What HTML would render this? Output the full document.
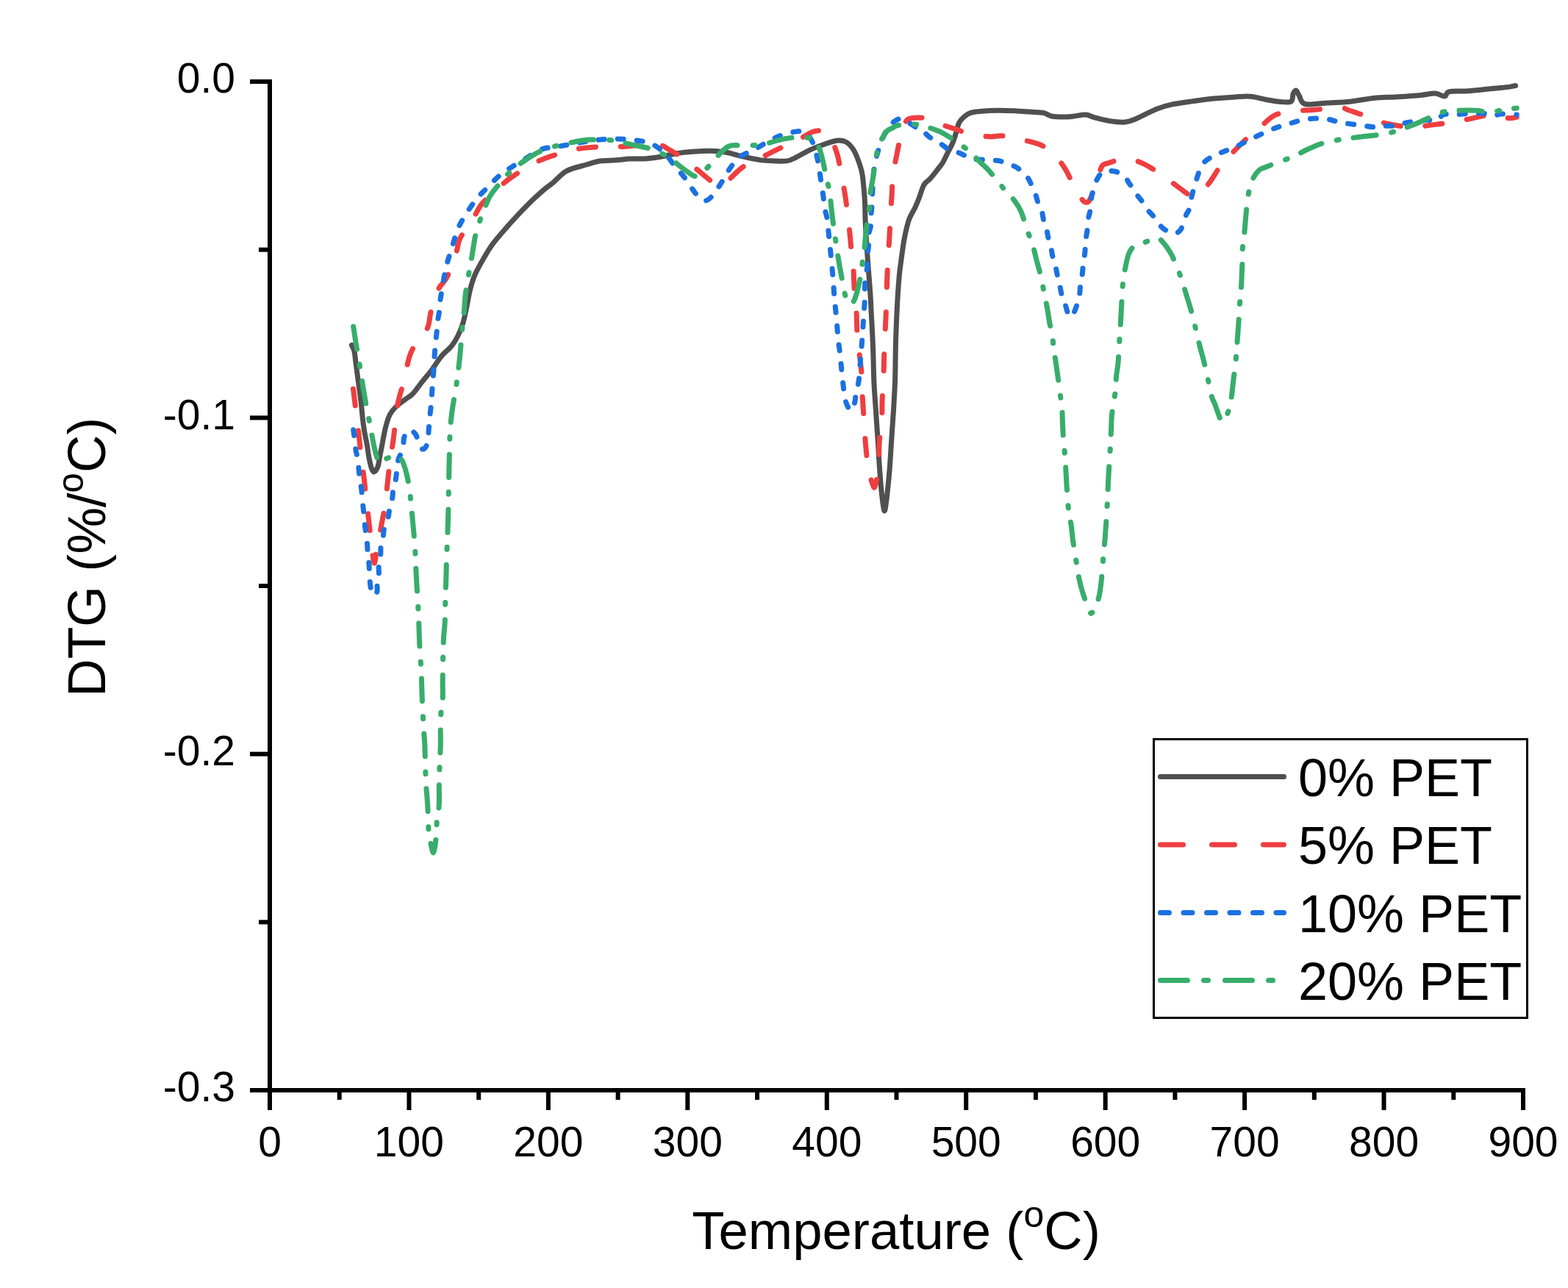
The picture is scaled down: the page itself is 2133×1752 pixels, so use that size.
<!DOCTYPE html>
<html><head><meta charset="utf-8"><title>DTG curves</title>
<style>
html,body{margin:0;padding:0;background:#fff;}
body{width:2133px;height:1752px;overflow:hidden;}
svg{display:block;}
</style></head>
<body>
<svg width="2133" height="1752" viewBox="0 0 2133 1752">
<rect x="0" y="0" width="2133" height="1752" fill="#ffffff"/>
<path d="M478.4,469.5C479.0,470.9 480.9,473.4 481.9,477.6C482.9,481.8 483.4,489.1 484.2,494.9C485.0,500.7 485.7,506.5 486.5,512.2C487.3,518.0 488.0,523.6 488.8,529.4C489.6,535.1 490.3,540.0 491.1,546.7C491.9,553.4 492.6,563.1 493.4,569.8C494.2,576.5 494.7,581.2 495.7,587.0C496.7,592.8 498.2,598.8 499.2,604.3C500.2,609.8 500.5,614.6 501.5,620.0C502.5,625.4 504.1,633.1 505.3,636.7C506.5,640.4 507.4,642.2 508.8,641.9C510.2,641.6 512.6,638.3 513.9,635.0C515.2,631.7 515.5,627.1 516.5,622.0C517.5,616.9 518.6,611.1 519.9,604.3C521.2,597.5 522.8,588.0 524.5,581.3C526.2,574.6 528.0,568.6 530.3,564.0C532.6,559.4 535.0,556.9 538.3,553.6C541.6,550.3 546.6,546.9 549.9,544.4C553.2,541.9 555.8,540.3 557.9,538.7C560.0,537.1 559.5,538.0 562.3,534.8C565.0,531.5 570.1,524.7 574.4,519.2C578.7,513.7 583.9,507.8 588.2,502.0C592.5,496.2 596.0,489.9 600.3,484.7C604.6,479.5 610.5,475.4 614.2,470.8C618.0,466.2 620.2,462.2 622.8,457.0C625.4,451.8 627.8,446.0 629.7,439.7C631.7,433.4 632.8,426.9 634.5,419.2C636.2,411.5 637.7,401.1 639.7,393.3C641.7,385.5 643.4,379.7 646.6,372.5C649.8,365.3 654.7,357.0 658.7,350.1C662.7,343.2 665.6,338.0 670.8,331.1C676.0,324.2 683.5,315.8 689.8,308.6C696.1,301.4 702.8,294.2 708.8,287.9C714.8,281.6 720.9,275.6 726.1,270.6C731.3,265.6 735.6,261.7 740.0,258.0C744.4,254.3 747.2,252.7 752.3,248.5C757.4,244.3 763.1,236.7 770.7,232.6C778.3,228.5 790.2,226.3 797.8,224.0C805.4,221.7 809.5,220.0 816.3,219.0C823.1,218.0 831.6,218.3 838.4,217.8C845.1,217.3 850.6,216.3 856.8,216.0C862.9,215.7 868.5,216.4 875.3,216.0C882.1,215.6 891.2,214.4 897.4,213.5C903.5,212.6 906.7,211.4 912.2,210.4C917.7,209.4 923.4,208.1 930.6,207.3C937.8,206.5 948.0,205.8 955.2,205.5C962.4,205.2 967.8,205.1 973.7,205.5C979.6,205.9 984.8,206.6 990.7,207.8C996.6,209.0 1002.0,211.1 1009.2,212.7C1016.4,214.3 1026.6,216.6 1033.8,217.6C1041.0,218.6 1046.0,218.7 1052.2,218.9C1058.4,219.1 1065.6,219.7 1070.7,218.9C1075.8,218.1 1077.9,216.5 1083.0,214.0C1088.1,211.5 1095.2,207.0 1101.4,204.1C1107.6,201.2 1113.8,198.8 1119.9,196.7C1126.1,194.5 1133.2,191.8 1138.3,191.2C1143.4,190.6 1146.9,191.1 1150.6,193.0C1154.3,194.9 1157.6,198.6 1160.5,202.9C1163.4,207.2 1165.8,213.4 1167.8,218.9C1169.8,224.4 1171.5,229.1 1172.8,236.1C1174.1,243.1 1174.9,254.2 1175.5,260.7C1176.1,267.2 1176.2,269.0 1176.5,275.0C1176.8,281.0 1176.7,288.5 1177.0,296.5C1177.3,304.5 1177.8,314.2 1178.3,323.0C1178.8,331.8 1179.5,340.7 1180.1,349.5C1180.7,358.3 1181.4,367.2 1182.1,376.0C1182.8,384.8 1183.5,393.7 1184.1,402.5C1184.6,411.3 1185.0,420.1 1185.4,428.9C1185.9,437.7 1186.4,446.9 1186.8,455.4C1187.2,463.9 1187.4,469.3 1187.8,480.0C1188.2,490.7 1188.3,506.5 1188.9,519.7C1189.5,533.0 1190.6,546.2 1191.5,559.5C1192.4,572.8 1193.4,587.1 1194.2,599.2C1195.0,611.3 1195.4,621.3 1196.2,632.3C1197.0,643.3 1197.7,655.0 1198.8,665.4C1199.9,675.8 1201.6,692.4 1202.8,694.6C1204.0,696.8 1204.9,688.0 1206.1,678.7C1207.3,669.4 1209.0,652.1 1210.1,638.9C1211.2,625.6 1211.8,612.4 1212.7,599.2C1213.6,586.0 1214.6,572.8 1215.4,559.5C1216.2,546.2 1217.0,533.0 1217.5,519.7C1218.0,506.5 1218.0,490.7 1218.2,480.0C1218.4,469.3 1218.4,466.1 1218.8,455.4C1219.2,444.7 1219.8,428.9 1220.5,415.7C1221.2,402.5 1222.2,387.0 1223.2,376.0C1224.2,365.0 1225.3,358.3 1226.5,349.5C1227.7,340.7 1228.8,331.4 1230.5,323.0C1232.2,314.6 1234.1,305.7 1236.4,299.1C1238.7,292.5 1242.1,288.1 1244.4,283.2C1246.7,278.3 1248.0,275.2 1250.0,270.0C1252.0,264.8 1254.2,256.3 1256.7,251.8C1259.2,247.3 1262.2,246.6 1265.3,243.1C1268.4,239.6 1272.3,234.5 1275.2,230.8C1278.1,227.1 1280.3,224.7 1282.6,221.0C1284.8,217.3 1286.5,213.2 1288.7,208.7C1291.0,204.2 1294.0,198.9 1296.1,194.0C1298.1,189.1 1299.6,183.7 1301.0,179.2C1302.4,174.7 1302.9,170.4 1304.7,166.9C1306.5,163.4 1309.4,160.6 1312.1,158.3C1314.8,156.1 1317.2,154.5 1320.7,153.4C1324.2,152.3 1326.8,152.0 1333.0,151.5C1339.2,151.0 1349.4,150.4 1357.6,150.3C1365.8,150.2 1375.0,150.6 1382.2,150.9C1389.4,151.2 1394.4,151.7 1400.6,152.1C1406.8,152.5 1414.0,152.4 1419.1,153.4C1424.2,154.4 1426.3,157.4 1431.4,158.3C1436.5,159.2 1445.0,158.9 1449.8,158.9C1454.6,158.9 1455.5,158.7 1460.0,158.2C1464.5,157.7 1472.3,155.9 1477.0,156.1C1481.7,156.3 1483.0,158.2 1488.4,159.6C1493.9,161.0 1502.6,163.5 1509.7,164.6C1516.8,165.7 1525.1,166.5 1531.0,166.0C1536.9,165.5 1538.0,164.7 1545.1,161.7C1552.2,158.7 1565.2,151.5 1573.5,148.2C1581.8,144.9 1586.5,143.7 1594.8,141.9C1603.1,140.1 1613.7,138.9 1623.2,137.6C1632.7,136.3 1642.1,135.0 1651.6,134.1C1661.1,133.2 1671.7,132.4 1680.0,131.9C1688.3,131.4 1694.1,130.6 1701.2,131.2C1708.3,131.8 1716.0,134.3 1722.5,135.5C1729.0,136.7 1734.4,137.8 1740.0,138.2C1745.6,138.6 1752.9,140.1 1756.1,138.2C1759.3,136.3 1758.1,129.5 1759.3,127.0C1760.5,124.5 1762.0,122.5 1763.3,123.0C1764.6,123.5 1765.3,127.1 1767.3,130.2C1769.3,133.3 1769.2,139.9 1775.4,141.5C1781.6,143.1 1794.1,140.5 1804.3,139.9C1814.5,139.3 1825.8,139.3 1836.5,138.2C1847.2,137.1 1858.0,134.5 1868.7,133.4C1879.4,132.3 1890.1,132.5 1900.8,131.8C1911.5,131.1 1924.4,130.2 1933.0,129.4C1941.6,128.6 1946.9,126.7 1952.3,127.0C1957.7,127.3 1962.0,131.4 1965.2,131.0C1968.4,130.6 1966.2,125.8 1971.6,124.6C1976.9,123.4 1987.6,124.5 1997.3,123.8C2007.0,123.1 2020.1,121.5 2029.5,120.6C2038.9,119.6 2048.2,118.8 2053.6,118.1C2058.9,117.4 2060.3,116.8 2061.6,116.5" fill="none" stroke="#505050" stroke-width="7" stroke-linecap="round" stroke-linejoin="round"/>
<path d="M480.5,529.0C481.1,534.1 482.8,548.0 484.2,559.4C485.6,570.8 487.6,587.3 488.8,597.4C490.0,607.5 490.0,610.5 491.1,620.0C492.2,629.5 494.6,644.8 495.7,654.6C496.8,664.4 497.0,670.1 498.0,678.8C499.0,687.4 500.4,697.5 501.5,706.5C502.6,715.5 503.2,723.4 504.4,733.0C505.5,742.6 507.3,759.4 508.4,764.0C509.4,768.6 510.0,764.2 510.7,760.6C511.4,757.0 511.8,746.0 512.4,742.2C513.0,738.4 513.0,742.2 514.1,737.6C515.2,733.0 517.2,723.0 518.8,714.5C520.4,706.0 522.6,695.9 523.9,686.9C525.2,677.9 525.7,670.2 526.8,660.4C527.9,650.6 529.1,638.1 530.4,628.1C531.7,618.1 533.4,609.6 534.7,600.4C536.0,591.2 537.0,581.7 538.1,572.8C539.2,563.9 539.7,556.1 541.6,546.9C543.5,537.7 547.0,528.0 549.6,517.7C552.2,507.4 554.3,493.4 557.0,485.0C559.7,476.6 561.8,473.8 565.8,467.4C569.8,461.0 577.8,454.2 581.3,446.7C584.8,439.2 584.0,431.4 586.5,422.5C589.0,413.6 592.8,401.1 596.5,393.3C600.2,385.6 604.6,384.4 608.6,376.0C612.6,367.6 617.8,351.8 620.7,343.2C623.6,334.6 622.1,331.7 625.9,324.2C629.6,316.7 638.3,306.0 643.2,298.2C648.1,290.4 649.7,284.4 655.3,277.5C660.9,270.6 670.6,262.6 676.9,256.8C683.2,251.0 686.8,247.7 693.3,242.9C699.8,238.2 709.1,232.3 715.7,228.3C722.3,224.3 725.3,222.1 733.0,218.8C740.7,215.5 753.1,211.3 762.1,208.6C771.1,205.9 776.9,203.9 786.7,202.4C796.6,200.9 811.0,199.9 821.2,199.4C831.5,198.9 839.2,199.8 848.2,199.4C857.2,199.0 866.7,197.1 875.3,196.9C883.9,196.7 894.6,197.3 899.9,198.1C905.2,198.9 902.0,198.7 907.3,201.8C912.6,204.9 924.9,211.7 931.9,216.6C938.9,221.5 942.8,226.0 949.1,231.3C955.4,236.6 965.1,244.9 969.8,248.4C974.5,251.9 974.3,252.1 977.2,252.1C980.1,252.1 982.4,251.9 987.1,248.4C991.8,244.9 999.8,235.9 1005.5,231.2C1011.2,226.5 1016.0,223.2 1021.5,220.1C1027.0,217.0 1032.2,215.8 1038.7,212.7C1045.2,209.6 1053.4,205.2 1060.8,201.7C1068.2,198.2 1075.6,195.5 1083.0,191.8C1090.4,188.1 1099.4,181.8 1105.1,179.5C1110.8,177.2 1113.5,177.3 1117.4,178.3C1121.3,179.3 1125.0,180.8 1128.5,185.7C1132.0,190.6 1135.8,200.4 1138.3,207.8C1140.8,215.2 1141.5,221.7 1143.2,229.9C1144.9,238.1 1146.9,249.5 1148.2,257.0C1149.5,264.5 1149.8,265.6 1151.0,275.0C1152.2,284.4 1154.4,302.4 1155.6,313.7C1156.8,325.0 1157.4,334.0 1158.3,342.8C1159.2,351.6 1160.2,357.9 1160.9,366.7C1161.6,375.5 1161.6,386.3 1162.3,395.8C1163.0,405.3 1164.2,413.7 1164.9,423.6C1165.6,433.5 1165.5,446.1 1166.2,455.4C1166.9,464.7 1167.9,470.1 1168.9,479.3C1169.9,488.5 1171.7,501.6 1172.3,510.5C1172.9,519.5 1172.3,523.7 1172.8,533.0C1173.2,542.3 1174.2,554.0 1175.0,566.1C1175.8,578.2 1176.5,593.7 1177.6,605.8C1178.7,617.9 1179.9,629.8 1181.6,638.9C1183.2,648.0 1186.1,656.2 1187.5,660.1C1188.9,664.0 1189.1,663.7 1190.0,662.0C1190.9,660.3 1192.1,655.6 1193.0,650.0C1193.9,644.4 1195.0,636.3 1195.5,628.3C1196.0,620.3 1195.5,611.8 1196.2,601.9C1196.9,592.0 1198.8,578.2 1199.5,568.7C1200.2,559.2 1199.7,555.3 1200.1,544.9C1200.5,534.5 1201.6,517.3 1202.1,506.5C1202.5,495.7 1202.4,490.9 1202.8,480.0C1203.2,469.1 1204.1,452.9 1204.6,440.9C1205.1,428.8 1205.7,417.4 1206.0,407.7C1206.3,398.0 1206.3,391.9 1206.6,382.6C1206.9,373.3 1207.5,362.0 1208.0,352.1C1208.5,342.2 1209.4,332.9 1209.9,323.0C1210.5,313.1 1210.7,302.5 1211.3,292.5C1211.9,282.5 1212.8,272.1 1213.3,263.1C1213.8,254.1 1213.5,247.2 1214.6,238.5C1215.7,229.8 1218.4,218.2 1219.8,211.0C1221.2,203.8 1222.0,199.5 1223.0,195.0C1224.0,190.5 1224.8,188.2 1226.0,184.0C1227.2,179.8 1228.5,173.6 1230.0,170.0C1231.5,166.4 1232.5,164.1 1235.0,162.5C1237.5,160.9 1241.7,160.6 1245.0,160.2C1248.3,159.8 1252.2,160.0 1255.0,160.2C1257.8,160.4 1259.5,160.7 1262.0,161.5C1264.5,162.3 1265.8,163.3 1270.0,165.0C1274.2,166.7 1282.5,170.1 1287.5,171.8C1292.5,173.6 1295.5,174.1 1299.8,175.5C1304.1,176.9 1308.3,179.0 1313.3,180.4C1318.3,181.8 1324.3,183.1 1330.0,184.0C1335.7,184.9 1342.5,185.9 1347.7,186.0C1352.9,186.1 1356.6,184.6 1361.3,184.7C1366.0,184.8 1368.4,185.0 1376.0,186.6C1383.6,188.2 1400.2,192.4 1407.0,194.2C1413.8,196.0 1413.8,196.2 1416.6,197.6C1419.4,199.0 1420.1,199.3 1424.0,202.6C1427.9,205.9 1435.5,212.2 1440.0,217.3C1444.5,222.4 1447.4,227.0 1451.0,233.3C1454.6,239.6 1458.4,249.1 1461.6,254.9C1464.8,260.8 1467.4,265.0 1469.9,268.4C1472.4,271.8 1474.4,274.9 1476.6,275.1C1478.8,275.4 1480.2,276.5 1483.3,269.9C1486.4,263.3 1492.5,242.9 1495.3,235.4C1498.0,227.9 1497.8,227.2 1499.8,224.9C1501.8,222.7 1503.9,223.1 1507.3,221.9C1510.7,220.8 1515.5,219.0 1520.0,218.0C1524.5,217.0 1528.7,215.3 1534.3,216.0C1539.9,216.7 1547.0,218.9 1553.7,221.9C1560.4,224.9 1569.7,230.7 1574.7,233.9C1579.7,237.2 1580.5,239.0 1583.7,241.4C1587.0,243.8 1590.7,245.7 1594.2,248.1C1597.8,250.5 1601.3,253.3 1605.0,256.0C1608.7,258.7 1613.2,262.8 1616.6,264.3C1620.0,265.8 1622.3,265.7 1625.5,264.8C1628.7,263.9 1632.5,261.8 1636.0,258.8C1639.5,255.8 1641.9,253.1 1646.4,246.9C1650.9,240.7 1658.2,227.7 1662.9,221.4C1667.7,215.2 1669.4,214.9 1674.9,209.4C1680.4,203.9 1689.7,194.2 1695.9,188.5C1702.1,182.8 1706.0,180.3 1712.3,175.0C1718.6,169.7 1725.8,160.8 1733.9,156.8C1742.0,152.8 1752.1,152.3 1760.9,151.1C1769.7,149.9 1776.4,150.3 1786.6,149.5C1796.8,148.7 1813.9,146.2 1822.0,146.3C1830.1,146.4 1830.7,148.7 1835.0,150.0C1839.3,151.3 1843.0,152.8 1847.8,154.3C1852.6,155.8 1858.4,157.2 1863.8,159.2C1869.2,161.2 1872.4,164.3 1879.9,166.4C1887.4,168.5 1900.6,171.1 1908.9,172.0C1917.2,172.9 1921.8,172.5 1929.8,172.0C1937.8,171.5 1947.4,170.1 1957.1,168.8C1966.8,167.5 1975.9,166.2 1987.7,164.0C1999.5,161.8 2019.2,156.9 2027.9,155.9C2036.6,154.9 2035.7,157.2 2040.0,158.0C2044.3,158.8 2049.7,160.6 2053.6,160.8C2057.5,161.0 2061.7,159.5 2063.3,159.2" fill="none" stroke="#ef3e40" stroke-width="7" stroke-linecap="round" stroke-linejoin="round" stroke-dasharray="23 34"/>
<path d="M480.7,584.7C480.9,586.2 481.3,589.2 481.9,594.0C482.5,598.8 483.5,608.7 484.2,613.5C484.9,618.3 485.4,616.6 486.3,622.9C487.2,629.2 488.5,644.2 489.4,651.2C490.3,658.2 491.1,660.2 491.7,665.0C492.3,669.8 492.3,675.0 492.8,680.0C493.3,685.0 494.1,690.3 494.6,694.9C495.1,699.5 495.3,703.6 495.7,707.6C496.1,711.6 496.4,715.1 496.9,719.1C497.4,723.1 498.1,727.9 498.6,731.8C499.1,735.6 499.4,738.2 499.7,742.2C500.0,746.2 499.9,751.8 500.3,756.0C500.7,760.2 501.6,763.5 502.0,767.5C502.4,771.5 502.3,775.4 502.6,780.2C502.9,785.0 503.2,791.6 503.8,796.3C504.4,801.0 505.2,806.4 506.1,808.4C507.1,810.4 508.4,808.7 509.5,808.0C510.6,807.3 512.4,807.3 513.0,804.4C513.6,801.5 512.6,794.5 513.0,790.6C513.4,786.8 514.9,784.8 515.3,781.3C515.7,777.8 514.9,773.8 515.3,769.8C515.7,765.8 517.1,761.7 517.6,757.1C518.1,752.5 517.6,746.6 518.2,742.2C518.8,737.8 520.3,734.6 521.1,730.6C521.9,726.6 521.6,722.4 522.8,718.0C523.9,713.6 526.9,708.1 528.0,704.1C529.1,700.1 528.8,698.2 529.7,693.8C530.7,689.4 532.8,682.4 533.7,677.6C534.6,672.8 534.1,669.2 534.9,665.0C535.7,660.8 537.2,658.7 538.3,652.3C539.4,645.9 540.5,632.2 541.6,626.4C542.7,620.6 543.9,621.3 545.0,617.7C546.1,614.1 547.8,608.6 548.5,605.0C549.2,601.4 548.9,598.5 549.5,596.0C550.1,593.5 551.0,591.6 552.0,590.0C553.0,588.4 554.3,587.3 555.5,586.5C556.7,585.7 558.1,584.8 559.4,585.0C560.6,585.2 561.9,586.8 563.0,588.0C564.1,589.2 565.3,590.3 566.3,592.5C567.3,594.7 568.0,598.4 569.0,601.0C570.0,603.6 571.0,606.3 572.0,608.0C573.0,609.7 574.0,610.8 575.0,611.0C576.0,611.2 577.0,610.7 578.0,609.5C579.0,608.3 580.2,606.6 581.0,604.0C581.8,601.4 582.1,598.0 582.5,594.0C582.9,590.0 583.2,584.7 583.6,580.0C584.0,575.3 584.3,570.9 584.8,565.9C585.3,560.9 586.1,554.9 586.5,550.3C586.9,545.7 587.1,542.5 587.4,538.2C587.7,533.9 587.9,528.4 588.2,524.4C588.5,520.4 588.8,518.0 589.1,514.0C589.5,510.0 590.0,504.4 590.3,500.2C590.6,496.0 590.6,493.0 590.8,489.0C591.0,485.0 591.4,479.9 591.7,476.0C592.0,472.1 592.2,470.0 592.6,465.7C593.0,461.4 593.9,454.7 594.3,450.1C594.7,445.5 594.6,442.6 595.2,438.0C595.8,433.4 597.1,427.1 597.7,422.5C598.3,417.9 597.9,415.5 598.6,410.4C599.3,405.2 600.3,399.5 601.7,391.6C603.1,383.7 604.7,372.1 606.9,363.0C609.1,353.9 612.0,345.9 614.7,337.1C617.4,328.3 620.0,318.1 623.3,310.3C626.6,302.5 630.5,297.0 634.5,290.5C638.5,284.0 642.9,277.3 647.5,271.5C652.1,265.7 657.2,261.1 662.2,255.9C667.2,250.7 672.5,244.9 677.7,240.4C682.9,235.9 687.0,233.3 693.3,229.1C699.6,224.9 708.5,219.6 715.7,215.3C722.9,211.0 729.4,205.8 736.5,203.2C743.6,200.5 750.0,200.9 758.4,199.4C766.8,197.9 778.3,195.9 786.7,194.4C795.1,192.9 800.5,191.6 808.9,190.7C817.3,189.8 828.0,188.9 837.2,188.9C846.4,188.9 856.0,189.6 864.2,190.7C872.4,191.8 879.6,192.6 886.4,195.7C893.2,198.8 899.5,204.1 904.8,209.2C910.1,214.3 913.8,220.9 918.3,226.4C922.8,231.9 927.4,236.4 931.9,242.4C936.4,248.4 941.7,257.4 945.4,262.1C949.1,266.8 951.6,268.7 954.0,270.5C956.4,272.3 957.3,273.3 959.5,273.0C961.7,272.7 963.6,272.2 967.0,268.5C970.4,264.8 975.8,257.0 979.8,251.0C983.8,245.0 986.4,238.6 990.7,232.4C995.0,226.2 999.8,218.7 1005.5,214.0C1011.2,209.3 1018.4,207.8 1025.2,204.1C1032.0,200.4 1039.3,195.3 1046.1,191.8C1052.9,188.3 1058.2,185.3 1065.8,183.2C1073.4,181.0 1085.0,177.3 1091.6,178.9C1098.1,180.5 1101.6,186.3 1105.1,193.0C1108.6,199.7 1110.7,210.7 1112.5,218.9C1114.3,227.1 1115.0,234.2 1116.2,242.2C1117.4,250.2 1118.9,259.6 1119.9,266.8C1120.9,274.0 1121.4,280.1 1122.3,285.3C1123.2,290.5 1124.3,291.5 1125.2,297.8C1126.1,304.1 1126.9,314.4 1127.8,323.0C1128.7,331.6 1129.6,340.4 1130.5,349.5C1131.4,358.6 1132.3,368.0 1133.1,377.3C1133.9,386.6 1134.3,396.1 1135.1,405.1C1135.9,414.2 1136.8,421.9 1137.7,431.6C1138.6,441.3 1139.5,454.5 1140.4,463.4C1141.3,472.3 1142.4,477.2 1143.2,485.0C1144.0,492.8 1144.5,500.9 1145.5,510.0C1146.5,519.1 1147.9,532.7 1149.1,539.6C1150.3,546.5 1151.2,548.4 1152.5,551.5C1153.8,554.6 1155.8,557.9 1157.0,558.5C1158.2,559.1 1159.0,557.0 1160.0,555.0C1161.0,553.0 1162.3,549.4 1163.0,546.2C1163.7,543.0 1163.6,539.8 1164.4,535.6C1165.2,531.4 1166.9,525.5 1167.7,521.1C1168.5,516.7 1168.6,513.8 1169.0,509.1C1169.4,504.5 1170.0,497.6 1170.3,493.2C1170.6,488.8 1170.7,486.5 1171.0,482.6C1171.3,478.7 1171.7,476.9 1172.2,470.0C1172.7,463.1 1173.8,448.0 1174.2,440.9C1174.6,433.8 1174.5,432.5 1174.8,427.6C1175.1,422.7 1175.9,419.2 1176.2,411.7C1176.5,404.2 1176.2,390.3 1176.8,382.6C1177.3,374.9 1179.0,370.7 1179.5,365.4C1180.0,360.1 1179.2,355.9 1179.5,350.8C1179.8,345.7 1181.2,340.0 1181.5,334.9C1181.8,329.8 1181.0,325.1 1181.5,320.3C1182.0,315.5 1184.2,310.2 1184.8,305.8C1185.3,301.4 1184.6,298.0 1184.8,293.8C1185.0,289.6 1185.6,288.2 1186.1,280.6C1186.5,273.0 1186.8,257.9 1187.5,248.4C1188.2,238.9 1188.3,232.4 1190.0,223.8C1191.7,215.2 1194.3,205.1 1197.4,196.7C1200.5,188.3 1204.2,179.2 1208.4,173.4C1212.6,167.6 1218.3,163.5 1222.3,162.0C1226.2,160.5 1228.2,162.6 1232.1,164.4C1236.0,166.2 1242.0,170.9 1245.7,173.0C1249.4,175.1 1251.4,174.6 1254.3,176.7C1257.2,178.8 1259.8,182.8 1262.9,185.3C1266.0,187.8 1269.4,189.4 1272.7,191.5C1276.0,193.6 1279.3,195.3 1282.6,197.6C1285.9,199.8 1288.9,203.3 1292.4,205.0C1295.9,206.7 1299.8,206.3 1303.5,207.5C1307.2,208.7 1311.0,211.0 1314.5,212.4C1318.0,213.8 1320.7,215.3 1324.4,216.1C1328.1,216.9 1333.2,216.9 1336.7,217.3C1340.2,217.7 1341.6,218.4 1345.3,218.6C1349.0,218.8 1354.5,217.8 1358.8,218.6C1363.1,219.4 1367.2,222.1 1371.1,223.5C1375.0,224.9 1378.7,225.2 1382.2,227.2C1385.7,229.2 1389.3,232.9 1392.0,235.4C1394.7,237.9 1396.2,238.9 1398.2,241.9C1400.2,244.9 1402.3,249.7 1404.0,253.4C1405.7,257.1 1407.1,260.1 1408.5,263.9C1409.9,267.6 1410.8,272.4 1412.2,275.9C1413.6,279.4 1415.5,280.8 1416.7,284.8C1418.0,288.8 1418.6,295.8 1419.7,299.8C1420.8,303.8 1422.4,305.1 1423.4,308.8C1424.4,312.6 1424.7,318.1 1425.7,322.3C1426.7,326.6 1428.4,330.1 1429.4,334.3C1430.4,338.5 1430.7,343.5 1431.7,347.7C1432.7,351.9 1434.3,355.2 1435.4,359.7C1436.5,364.2 1437.4,370.2 1438.4,374.7C1439.4,379.2 1440.4,382.2 1441.4,386.7C1442.4,391.2 1443.2,397.2 1444.4,401.7C1445.7,406.2 1447.4,409.1 1448.9,413.6C1450.4,418.1 1452.2,425.9 1453.4,428.6C1454.7,431.3 1455.4,430.0 1456.4,430.0C1457.4,430.0 1457.9,431.3 1459.4,428.6C1460.9,425.9 1463.9,418.1 1465.4,413.6C1466.9,409.1 1467.7,406.2 1468.4,401.7C1469.2,397.2 1469.3,391.2 1469.9,386.7C1470.5,382.2 1471.5,379.4 1472.1,374.7C1472.7,369.9 1473.0,363.4 1473.6,358.2C1474.2,352.9 1475.4,348.2 1475.9,343.2C1476.4,338.2 1476.1,333.0 1476.6,328.3C1477.1,323.6 1478.2,319.8 1478.8,314.8C1479.4,309.8 1479.5,303.3 1480.3,298.3C1481.0,293.3 1482.5,289.8 1483.3,284.8C1484.0,279.8 1484.2,272.6 1484.8,268.4C1485.4,264.2 1486.1,262.9 1487.1,259.4C1488.1,255.9 1489.2,251.2 1490.8,247.4C1492.4,243.7 1494.8,239.3 1496.8,236.9C1498.8,234.5 1500.8,233.8 1503.0,233.0C1505.2,232.2 1507.6,232.2 1510.3,232.4C1513.0,232.6 1516.0,232.7 1519.3,233.9C1522.5,235.2 1527.0,237.4 1529.8,239.9C1532.5,242.4 1533.7,245.9 1535.8,248.9C1537.9,251.9 1540.6,255.1 1542.5,257.9C1544.4,260.6 1545.0,262.5 1547.0,265.4C1549.0,268.3 1552.2,271.9 1554.5,275.1C1556.8,278.3 1558.1,281.7 1560.5,284.8C1562.9,287.9 1566.3,290.8 1568.7,293.8C1571.1,296.8 1572.2,299.8 1574.7,302.8C1577.2,305.8 1580.5,309.4 1583.7,311.8C1587.0,314.2 1591.5,316.1 1594.2,317.0C1596.9,317.9 1598.1,317.6 1600.0,317.0C1601.9,316.4 1603.9,315.2 1605.4,313.3C1606.9,311.4 1607.7,309.3 1609.1,305.8C1610.5,302.3 1612.1,296.1 1613.6,292.3C1615.1,288.6 1616.9,287.4 1618.1,283.3C1619.3,279.2 1619.4,274.4 1621.0,267.8C1622.6,261.2 1625.0,251.6 1627.7,243.9C1630.4,236.2 1632.5,227.2 1637.4,221.4C1642.3,215.7 1649.9,212.9 1656.9,209.4C1663.9,205.9 1671.7,203.9 1679.4,200.4C1687.1,196.9 1695.1,192.5 1703.3,188.5C1711.5,184.5 1720.8,179.8 1728.8,176.5C1736.8,173.2 1743.3,171.4 1751.3,169.0C1759.3,166.6 1768.2,163.4 1776.7,162.2C1785.2,160.9 1794.2,160.8 1802.2,161.5C1810.2,162.2 1816.4,165.2 1824.6,166.7C1832.8,168.2 1844.0,169.5 1851.6,170.5C1859.2,171.5 1865.2,172.7 1870.3,172.8C1875.4,172.9 1878.0,171.5 1882.3,171.2C1886.6,170.9 1891.6,171.7 1896.0,171.2C1900.4,170.7 1904.9,168.9 1908.9,168.0C1912.9,167.1 1914.8,166.4 1920.1,165.6C1925.4,164.8 1935.4,163.5 1941.0,163.2C1946.6,162.9 1950.2,165.2 1953.9,164.0C1957.7,162.8 1959.8,157.2 1963.5,155.9C1967.2,154.6 1972.1,156.0 1976.4,155.9C1980.7,155.8 1984.7,155.4 1989.3,155.1C1993.9,154.8 1999.0,154.4 2003.8,154.3C2008.6,154.2 2013.7,153.8 2018.2,154.3C2022.8,154.8 2027.1,157.4 2031.1,157.5C2035.1,157.6 2037.0,155.4 2042.4,155.1C2047.8,154.8 2059.8,155.8 2063.3,155.9" fill="none" stroke="#1b71e1" stroke-width="7" stroke-linecap="round" stroke-linejoin="round" stroke-dasharray="8 18"/>
<path d="M480.7,444.2C481.4,448.6 483.4,462.3 484.8,470.7C486.2,479.1 487.6,486.6 488.8,494.3C490.1,502.0 491.0,508.4 492.3,516.8C493.6,525.1 495.6,536.7 496.9,544.4C498.2,552.1 499.1,556.9 500.3,562.9C501.5,568.9 502.3,572.2 503.8,580.1C505.3,588.0 507.5,601.8 509.5,610.1C511.5,618.4 513.8,627.1 515.7,629.8C517.6,632.4 519.0,627.1 521.0,626.0C523.0,624.9 525.2,624.0 527.8,622.9C530.4,621.8 533.7,619.5 536.4,619.5C539.1,619.5 542.2,621.2 544.2,622.9C546.2,624.6 546.9,625.8 548.5,629.8C550.1,633.8 552.3,641.0 553.7,647.1C555.1,653.2 556.2,659.9 557.1,666.1C558.0,672.4 558.4,677.5 559.1,684.6C559.8,691.7 560.5,699.4 561.4,708.8C562.3,718.2 563.6,731.6 564.3,741.0C565.0,750.4 565.0,757.1 565.4,765.2C565.8,773.3 566.0,778.8 566.6,789.4C567.2,800.0 568.4,818.0 568.9,828.6C569.4,839.2 569.6,844.3 569.9,852.7C570.2,861.1 570.4,869.6 570.9,879.2C571.4,888.8 572.4,901.0 572.9,910.5C573.4,920.0 573.5,927.2 573.8,936.0C574.1,944.8 574.3,953.0 574.8,963.4C575.3,973.8 576.3,990.5 576.8,998.6C577.3,1006.8 577.5,1004.5 577.8,1012.3C578.1,1020.1 578.4,1036.1 578.7,1045.6C579.0,1055.1 579.2,1060.9 579.7,1069.1C580.2,1077.3 581.2,1085.5 581.7,1094.6C582.2,1103.7 582.2,1116.4 582.7,1123.9C583.2,1131.4 583.5,1133.6 584.6,1139.6C585.7,1145.6 588.0,1160.3 589.5,1160.0C591.0,1159.7 592.6,1144.9 593.4,1137.6C594.2,1130.3 593.8,1123.3 594.4,1116.1C595.0,1108.9 596.8,1103.4 597.3,1094.6C597.8,1085.8 597.1,1073.0 597.3,1063.2C597.5,1053.4 598.0,1044.3 598.3,1035.8C598.6,1027.3 599.1,1022.1 599.3,1012.3C599.5,1002.5 598.8,987.4 599.3,977.1C599.8,966.8 601.7,959.4 602.2,950.6C602.7,941.8 602.0,937.1 602.2,924.2C602.4,911.3 602.7,886.2 603.2,873.3C603.7,860.4 604.8,855.3 605.2,846.9C605.6,838.5 605.4,833.1 605.7,822.8C606.0,812.4 606.6,795.4 606.9,784.8C607.2,774.2 607.2,767.6 607.5,759.4C607.8,751.1 608.2,745.8 608.6,735.3C609.0,724.8 609.5,707.0 609.8,696.1C610.1,685.2 610.1,678.2 610.3,670.0C610.4,661.8 610.5,657.2 610.7,647.1C610.9,637.0 611.3,619.6 611.6,609.1C611.9,598.6 611.8,592.4 612.4,584.0C613.0,575.6 613.7,568.4 615.0,559.0C616.3,549.6 618.9,536.2 620.2,527.9C621.5,519.5 621.9,515.8 622.8,508.9C623.7,502.0 624.5,495.0 625.4,486.4C626.3,477.8 627.3,465.2 628.0,457.0C628.7,448.8 629.1,442.9 629.7,437.2C630.3,431.4 630.8,428.7 631.4,422.5C632.0,416.3 632.5,405.7 633.2,400.0C633.9,394.3 634.5,393.8 635.4,388.1C636.3,382.4 637.6,372.5 638.8,365.6C639.9,358.7 641.0,354.1 642.3,346.6C643.6,339.1 645.0,327.9 646.6,320.7C648.2,313.5 649.8,309.4 651.8,303.4C653.8,297.3 656.1,290.7 658.7,284.4C661.3,278.1 663.9,271.1 667.4,265.4C670.9,259.6 675.5,254.8 679.5,249.9C683.5,245.0 686.4,240.9 691.6,236.0C696.8,231.1 703.1,225.7 710.6,220.5C718.1,215.3 728.5,208.6 736.5,204.9C744.5,201.2 751.0,200.1 758.4,198.1C765.8,196.1 773.4,194.5 780.6,193.2C787.8,191.9 792.9,190.5 801.5,190.1C810.1,189.7 823.4,189.8 832.2,190.7C841.0,191.6 846.0,193.8 854.4,195.7C862.8,197.5 874.9,199.6 882.7,201.8C890.5,204.1 895.8,206.5 901.1,209.2C906.4,211.9 909.5,214.1 914.6,217.8C919.7,221.5 926.4,227.6 931.9,231.3C937.4,235.0 942.9,240.4 947.8,240.0C952.7,239.6 957.3,232.8 961.4,228.9C965.5,225.0 967.5,221.6 972.4,216.6C977.3,211.6 984.0,202.3 990.7,199.2C997.5,196.1 1005.3,198.4 1012.9,198.0C1020.5,197.6 1027.7,198.1 1036.3,196.7C1044.9,195.3 1056.3,191.0 1064.5,189.4C1072.7,187.8 1078.2,186.9 1085.4,186.9C1092.6,186.9 1102.7,186.7 1107.6,189.4C1112.5,192.1 1113.0,197.6 1115.0,202.9C1117.0,208.2 1118.5,215.2 1119.9,221.3C1121.3,227.5 1122.2,233.2 1123.6,239.8C1125.0,246.4 1127.3,253.3 1128.5,260.7C1129.7,268.1 1130.1,276.3 1131.0,284.0C1131.9,291.7 1132.8,299.5 1133.8,307.1C1134.8,314.7 1135.9,321.4 1137.1,329.6C1138.3,337.8 1139.8,348.2 1141.1,356.1C1142.4,364.1 1143.8,370.7 1145.0,377.3C1146.2,383.9 1147.0,390.3 1148.3,395.8C1149.6,401.3 1151.6,407.5 1153.0,410.4C1154.4,413.3 1155.2,413.0 1156.5,413.0C1157.8,413.0 1159.4,413.3 1161.0,410.4C1162.6,407.5 1164.5,402.4 1166.2,395.8C1168.0,389.2 1170.3,377.5 1171.5,370.7C1172.7,363.9 1172.7,360.8 1173.5,354.8C1174.3,348.8 1175.4,341.8 1176.2,334.9C1177.0,328.0 1177.3,320.1 1178.1,313.7C1178.9,307.3 1180.0,302.0 1180.8,296.5C1181.6,291.0 1182.3,286.2 1182.8,280.6C1183.3,275.0 1183.0,269.5 1183.8,263.1C1184.6,256.7 1186.3,250.0 1187.5,242.2C1188.7,234.4 1189.7,224.2 1191.2,216.4C1192.7,208.6 1194.0,201.7 1196.5,195.5C1199.0,189.3 1203.2,182.5 1206.0,179.0C1208.8,175.5 1210.7,175.9 1213.0,174.6C1215.3,173.3 1217.2,171.9 1220.0,171.0C1222.8,170.1 1226.1,169.3 1229.7,169.0C1233.3,168.7 1237.6,168.7 1241.5,168.9C1245.4,169.1 1249.5,169.5 1253.3,170.3C1257.1,171.1 1259.5,172.0 1264.2,173.7C1268.9,175.4 1275.8,177.6 1281.3,180.4C1286.8,183.2 1290.9,186.0 1297.3,190.3C1303.7,194.6 1314.0,201.7 1319.5,206.3C1325.0,210.9 1326.4,213.8 1330.5,217.9C1334.6,222.0 1339.6,226.0 1344.1,230.8C1348.6,235.6 1353.7,242.1 1357.6,246.8C1361.5,251.5 1363.7,254.8 1367.4,259.1C1371.1,263.5 1376.4,268.1 1380.0,272.9C1383.6,277.7 1386.0,280.8 1389.0,287.8C1392.0,294.8 1395.2,306.8 1398.0,314.8C1400.8,322.8 1403.5,329.3 1405.5,335.8C1407.5,342.3 1408.2,347.0 1410.0,353.7C1411.8,360.4 1414.3,368.7 1416.0,376.2C1417.7,383.7 1418.9,391.2 1420.4,398.7C1421.9,406.2 1423.7,414.2 1424.9,421.1C1426.2,428.0 1426.9,434.6 1427.9,440.0C1429.0,445.4 1430.2,447.6 1431.2,453.6C1432.2,459.6 1432.6,468.5 1433.6,476.0C1434.6,483.5 1435.3,485.7 1437.1,498.5C1438.9,511.3 1442.8,540.2 1444.2,552.8C1445.6,565.4 1445.0,566.5 1445.4,574.0C1445.8,581.5 1446.0,589.3 1446.6,597.6C1447.2,605.9 1448.4,615.9 1449.0,623.6C1449.6,631.3 1449.7,636.9 1450.1,643.6C1450.5,650.3 1450.7,655.2 1451.3,663.7C1451.9,672.2 1452.7,685.9 1453.7,694.4C1454.7,702.9 1456.2,707.6 1457.2,714.5C1458.2,721.4 1458.4,727.2 1459.6,735.7C1460.8,744.2 1462.9,756.7 1464.3,765.2C1465.7,773.7 1466.4,779.8 1467.8,786.5C1469.2,793.2 1470.2,797.9 1472.6,805.4C1475.0,812.9 1479.8,826.7 1482.0,831.3C1484.2,835.9 1484.4,834.4 1486.0,833.0C1487.6,831.6 1489.7,827.7 1491.4,823.1C1493.1,818.5 1494.8,813.5 1496.2,805.4C1497.6,797.3 1498.9,783.0 1499.7,774.7C1500.5,766.4 1500.3,762.9 1500.9,755.8C1501.5,748.7 1502.4,742.0 1503.2,732.2C1504.0,722.4 1505.0,706.6 1505.6,696.8C1506.2,687.0 1506.4,681.5 1506.8,673.2C1507.2,664.9 1507.4,657.8 1508.0,647.2C1508.6,636.6 1509.7,619.6 1510.3,609.4C1510.9,599.2 1511.1,593.7 1511.5,585.8C1511.9,577.9 1511.7,571.2 1512.7,562.2C1513.7,553.2 1516.4,540.0 1517.4,531.5C1518.4,523.0 1518.0,517.7 1518.6,511.4C1519.2,505.1 1520.2,502.9 1521.0,493.7C1521.8,484.5 1522.7,465.4 1523.3,456.0C1523.9,446.6 1524.0,444.9 1524.5,437.1C1525.0,429.3 1525.5,417.8 1526.0,409.1C1526.5,400.5 1526.8,392.4 1527.5,385.2C1528.2,378.0 1529.1,372.4 1530.5,365.7C1531.9,358.9 1533.4,350.2 1535.8,344.7C1538.2,339.2 1541.2,335.3 1544.7,332.8C1548.2,330.3 1552.0,331.3 1556.7,329.8C1561.5,328.3 1569.0,323.8 1573.2,323.8C1577.5,323.8 1579.0,326.3 1582.2,329.8C1585.5,333.3 1589.7,339.5 1592.7,344.7C1595.7,349.9 1597.7,355.2 1600.2,361.2C1602.7,367.2 1605.3,373.8 1607.6,380.7C1609.9,387.6 1612.0,395.2 1614.2,402.3C1616.4,409.4 1618.6,416.1 1620.5,423.0C1622.4,429.9 1623.8,435.9 1625.7,443.8C1627.6,451.7 1630.0,462.2 1632.0,470.3C1634.0,478.4 1636.0,484.6 1637.8,492.1C1639.6,499.6 1641.2,507.1 1643.0,515.2C1644.8,523.3 1647.2,534.9 1648.7,540.5C1650.2,546.1 1650.3,543.6 1652.2,548.6C1654.1,553.6 1658.3,566.3 1660.3,570.4C1662.3,574.5 1662.2,574.9 1664.0,573.0C1665.8,571.1 1669.3,564.3 1671.2,558.9C1673.1,553.5 1674.1,547.8 1675.2,540.5C1676.3,533.2 1677.1,523.5 1678.1,515.2C1679.1,507.0 1680.2,498.7 1681.0,491.0C1681.8,483.3 1682.0,477.9 1682.7,469.1C1683.4,460.3 1684.4,446.8 1685.0,438.0C1685.6,429.2 1685.6,423.8 1686.2,416.1C1686.8,408.5 1687.8,401.8 1688.4,392.1C1689.0,382.4 1689.5,367.4 1689.9,357.7C1690.3,348.0 1690.1,340.7 1690.6,333.7C1691.1,326.7 1692.2,323.0 1692.9,315.8C1693.7,308.6 1694.2,298.8 1695.1,290.3C1696.0,281.8 1696.7,272.3 1698.1,264.8C1699.5,257.3 1700.9,250.9 1703.3,245.4C1705.7,239.9 1709.3,234.9 1712.3,231.9C1715.3,228.9 1716.5,229.4 1721.3,227.4C1726.0,225.4 1734.5,222.3 1740.8,219.9C1747.0,217.5 1752.3,216.1 1758.8,213.2C1765.3,210.3 1773.1,205.7 1779.7,202.7C1786.3,199.7 1791.4,197.3 1798.4,195.2C1805.4,193.1 1813.4,191.4 1821.7,190.0C1830.0,188.6 1839.1,187.6 1848.0,186.5C1856.9,185.4 1867.1,184.5 1875.1,183.3C1883.1,182.1 1889.7,180.9 1896.0,179.3C1902.3,177.7 1906.5,176.0 1912.9,173.6C1919.3,171.2 1928.2,167.6 1934.6,164.8C1941.0,162.0 1945.6,159.0 1951.5,156.7C1957.4,154.4 1960.8,152.2 1970.0,151.1C1979.2,150.0 1997.6,150.0 2007.0,150.3C2016.4,150.6 2019.3,153.0 2026.3,152.7C2033.3,152.4 2042.6,149.6 2048.8,148.7C2055.0,147.8 2060.9,147.4 2063.3,147.1" fill="none" stroke="#37ad6b" stroke-width="7" stroke-linecap="round" stroke-linejoin="round" stroke-dasharray="31 21 3 20"/>
<rect x="364.0" y="108.0" width="6" height="1402.0" fill="#000"/>
<rect x="340" y="1480.0" width="1735" height="6" fill="#000"/>
<rect x="340" y="108.00" width="27" height="6" fill="#000"/>
<rect x="340" y="565.33" width="27" height="6" fill="#000"/>
<rect x="340" y="1022.67" width="27" height="6" fill="#000"/>
<rect x="340" y="1480.00" width="27" height="6" fill="#000"/>
<rect x="352" y="336.67" width="15" height="6" fill="#000"/>
<rect x="352" y="794.00" width="15" height="6" fill="#000"/>
<rect x="352" y="1251.33" width="15" height="6" fill="#000"/>
<rect x="364.00" y="1483.0" width="6" height="27" fill="#000"/>
<rect x="553.44" y="1483.0" width="6" height="27" fill="#000"/>
<rect x="742.89" y="1483.0" width="6" height="27" fill="#000"/>
<rect x="932.33" y="1483.0" width="6" height="27" fill="#000"/>
<rect x="1121.78" y="1483.0" width="6" height="27" fill="#000"/>
<rect x="1311.22" y="1483.0" width="6" height="27" fill="#000"/>
<rect x="1500.67" y="1483.0" width="6" height="27" fill="#000"/>
<rect x="1690.11" y="1483.0" width="6" height="27" fill="#000"/>
<rect x="1879.56" y="1483.0" width="6" height="27" fill="#000"/>
<rect x="2069.00" y="1483.0" width="6" height="27" fill="#000"/>
<rect x="458.72" y="1483.0" width="6" height="13" fill="#000"/>
<rect x="648.17" y="1483.0" width="6" height="13" fill="#000"/>
<rect x="837.61" y="1483.0" width="6" height="13" fill="#000"/>
<rect x="1027.06" y="1483.0" width="6" height="13" fill="#000"/>
<rect x="1216.50" y="1483.0" width="6" height="13" fill="#000"/>
<rect x="1405.94" y="1483.0" width="6" height="13" fill="#000"/>
<rect x="1595.39" y="1483.0" width="6" height="13" fill="#000"/>
<rect x="1784.83" y="1483.0" width="6" height="13" fill="#000"/>
<rect x="1974.28" y="1483.0" width="6" height="13" fill="#000"/>
<text x="320" y="126.2" font-family="'Liberation Sans', Arial, Helvetica, sans-serif" font-size="57" text-anchor="end" fill="#000">0.0</text>
<text x="320" y="583.5" font-family="'Liberation Sans', Arial, Helvetica, sans-serif" font-size="57" text-anchor="end" fill="#000">-0.1</text>
<text x="320" y="1040.9" font-family="'Liberation Sans', Arial, Helvetica, sans-serif" font-size="57" text-anchor="end" fill="#000">-0.2</text>
<text x="320" y="1498.2" font-family="'Liberation Sans', Arial, Helvetica, sans-serif" font-size="57" text-anchor="end" fill="#000">-0.3</text>
<text x="367.0" y="1572.5" font-family="'Liberation Sans', Arial, Helvetica, sans-serif" font-size="57" text-anchor="middle" fill="#000">0</text>
<text x="556.4" y="1572.5" font-family="'Liberation Sans', Arial, Helvetica, sans-serif" font-size="57" text-anchor="middle" fill="#000">100</text>
<text x="745.9" y="1572.5" font-family="'Liberation Sans', Arial, Helvetica, sans-serif" font-size="57" text-anchor="middle" fill="#000">200</text>
<text x="935.3" y="1572.5" font-family="'Liberation Sans', Arial, Helvetica, sans-serif" font-size="57" text-anchor="middle" fill="#000">300</text>
<text x="1124.8" y="1572.5" font-family="'Liberation Sans', Arial, Helvetica, sans-serif" font-size="57" text-anchor="middle" fill="#000">400</text>
<text x="1314.2" y="1572.5" font-family="'Liberation Sans', Arial, Helvetica, sans-serif" font-size="57" text-anchor="middle" fill="#000">500</text>
<text x="1503.7" y="1572.5" font-family="'Liberation Sans', Arial, Helvetica, sans-serif" font-size="57" text-anchor="middle" fill="#000">600</text>
<text x="1693.1" y="1572.5" font-family="'Liberation Sans', Arial, Helvetica, sans-serif" font-size="57" text-anchor="middle" fill="#000">700</text>
<text x="1882.6" y="1572.5" font-family="'Liberation Sans', Arial, Helvetica, sans-serif" font-size="57" text-anchor="middle" fill="#000">800</text>
<text x="2072.0" y="1572.5" font-family="'Liberation Sans', Arial, Helvetica, sans-serif" font-size="57" text-anchor="middle" fill="#000">900</text>
<text x="1219" y="1699" font-family="'Liberation Sans', Arial, Helvetica, sans-serif" font-size="72.5" text-anchor="middle" fill="#000">Temperature (<tspan font-size="50" dy="-30">o</tspan><tspan dy="30">C)</tspan></text>
<text transform="translate(142.7,757.75) rotate(-90) scale(0.984,1)" x="0" y="0" font-family="'Liberation Sans', Arial, Helvetica, sans-serif" font-size="72.5" text-anchor="middle" fill="#000">DTG (%/<tspan font-size="50" dy="-30">o</tspan><tspan dy="30">C)</tspan></text>
<rect x="1569.5" y="1005.5" width="508" height="379" fill="#fff" stroke="#000" stroke-width="3"/>
<line x1="1578.5" y1="1056.5" x2="1746.5" y2="1056.5" stroke="#505050" stroke-width="7" stroke-linecap="round"/>
<text x="1766" y="1083.2" font-family="'Liberation Sans', Arial, Helvetica, sans-serif" font-size="72" fill="#000">0% PET</text>
<line x1="1578.5" y1="1149" x2="1746.5" y2="1149" stroke="#ef3e40" stroke-width="7" stroke-linecap="round" stroke-dasharray="31 39"/>
<text x="1766" y="1175" font-family="'Liberation Sans', Arial, Helvetica, sans-serif" font-size="72" fill="#000">5% PET</text>
<line x1="1578.5" y1="1241.5" x2="1746.5" y2="1241.5" stroke="#1b71e1" stroke-width="7" stroke-linecap="round" stroke-dasharray="12 19.5"/>
<text x="1766" y="1268" font-family="'Liberation Sans', Arial, Helvetica, sans-serif" font-size="72" fill="#000">10% PET</text>
<line x1="1578.5" y1="1333.5" x2="1746.5" y2="1333.5" stroke="#37ad6b" stroke-width="7" stroke-linecap="round" stroke-dasharray="37 22 6 23"/>
<text x="1766" y="1360" font-family="'Liberation Sans', Arial, Helvetica, sans-serif" font-size="72" fill="#000">20% PET</text>
</svg>
</body></html>
